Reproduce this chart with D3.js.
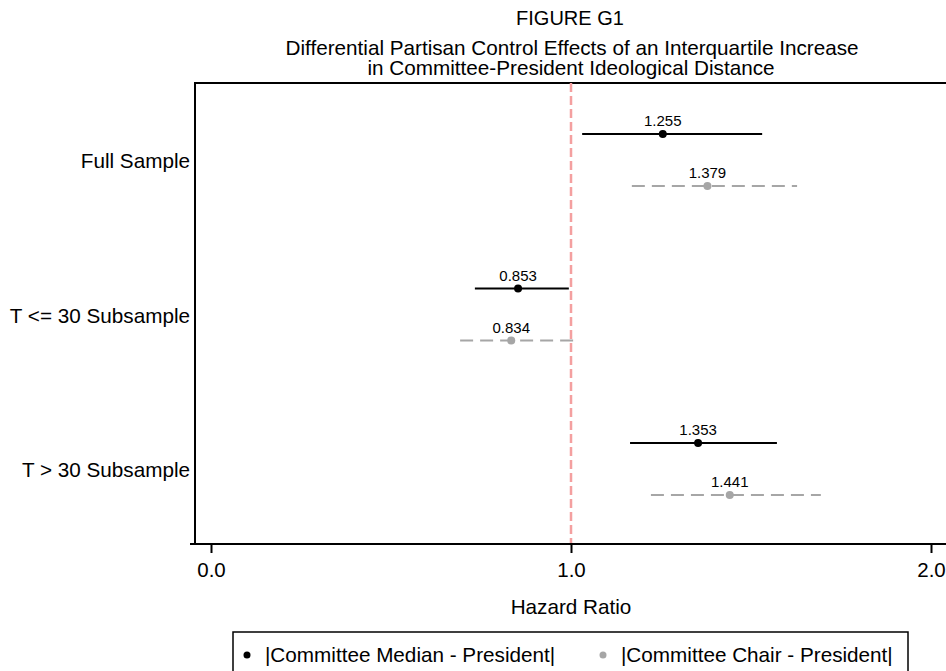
<!DOCTYPE html>
<html>
<head>
<meta charset="utf-8">
<script src="https://cdn.jsdelivr.net/npm/d3@7"></script>
<style>
  body { margin: 0; background: #fff; }
  text { font-family: "Liberation Sans", Arial, sans-serif; }
</style>
</head>
<body>
<svg id="svg1"></svg>
<script>
var groups = ['Full Sample', 'T <= 30 Subsample', 'T > 30 Subsample'];
var seriesNames = ['|Committee Median - President|', '|Committee Chair - President|'];
var medianEst = [1.255, 0.853, 1.353];
var medianLo = [1.031, 0.733, 1.164];
var medianHi = [1.531, 0.994, 1.572];
var chairEst = [1.379, 0.834, 1.441];
var chairLo = [1.169, 0.692, 1.222];
var chairHi = [1.628, 1.011, 1.694];
var xTicks = [0, 1, 2];

var width = 946, height = 671;
var svg = d3.select('#svg1').attr('width', width).attr('height', height);

var plotTop = 83, plotBottom = 544, plotLeft = 195;

var xScale = d3.scaleLinear().domain([0, 2]).range([211, 931]);
var yScale = d3.scalePoint().domain(groups).range([161, 470]);
var offsets = [-27, 25];

// title
svg.append('text').attr('x', 570).attr('y', 25).attr('text-anchor', 'middle')
    .style('font-size', '20px').text('FIGURE G1');
svg.append('text').attr('x', 572).attr('y', 55).attr('text-anchor', 'middle')
    .style('font-size', '20.7px').text('Differential Partisan Control Effects of an Interquartile Increase');
svg.append('text').attr('x', 571).attr('y', 75).attr('text-anchor', 'middle')
    .style('font-size', '20.7px').text('in Committee-President Ideological Distance');

// plot frame
svg.append('path')
    .attr('d', 'M' + plotLeft + ',' + plotBottom + 'V' + plotTop + 'H' + (width + 5))
    .attr('fill', 'none').attr('stroke', '#000').attr('stroke-width', 2);

// reference line at 1
svg.append('line')
    .attr('x1', xScale(1)).attr('x2', xScale(1))
    .attr('y1', plotTop).attr('y2', plotBottom)
    .attr('stroke', '#f4a0a0').attr('stroke-width', 2.5)
    .attr('stroke-dasharray', '9,4');

// x axis
var xAxis = d3.axisBottom(xScale).tickValues(xTicks).tickFormat(d3.format('.1f'))
    .tickSize(9).tickPadding(9);
var gx = svg.append('g').attr('transform', 'translate(0,' + plotBottom + ')').call(xAxis);
gx.select('.domain').remove();
gx.append('line').attr('x1', 190).attr('x2', width + 5).attr('y1', 0).attr('y2', 0)
    .attr('stroke', '#000').attr('stroke-width', 2);
gx.selectAll('.tick line').attr('stroke-width', 2);
gx.selectAll('.tick text').style('font-size', '20.5px').attr('fill', '#000');

svg.append('text').attr('x', 571).attr('y', 614).attr('text-anchor', 'middle')
    .style('font-size', '20.7px').text('Hazard Ratio');

// y labels
svg.selectAll('.ylab').data(groups).enter().append('text')
    .attr('class', 'ylab')
    .attr('x', 190).attr('y', function(d) { return yScale(d) + 7; })
    .attr('text-anchor', 'end').style('font-size', '20.7px')
    .text(function(d) { return d; });

var series = [
    { est: medianEst, lo: medianLo, hi: medianHi, color: '#000', dash: null },
    { est: chairEst, lo: chairLo, hi: chairHi, color: '#a6a6a6', dash: '13,7' }
];

series.forEach(function(s, si) {
    var g = svg.append('g');
    var entry = g.selectAll('g').data(groups).enter().append('g');
    entry.append('line')
        .attr('x1', function(d, i) { return xScale(s.lo[i]); })
        .attr('x2', function(d, i) { return xScale(s.hi[i]); })
        .attr('y1', function(d) { return yScale(d) + offsets[si]; })
        .attr('y2', function(d) { return yScale(d) + offsets[si]; })
        .attr('stroke', s.color).attr('stroke-width', 2)
        .attr('stroke-dasharray', s.dash);
    entry.append('circle')
        .attr('cx', function(d, i) { return xScale(s.est[i]); })
        .attr('cy', function(d) { return yScale(d) + offsets[si]; })
        .attr('r', 4).attr('fill', s.color);
    entry.append('text')
        .attr('x', function(d, i) { return xScale(s.est[i]); })
        .attr('y', function(d) { return yScale(d) + offsets[si] - 8; })
        .attr('text-anchor', 'middle').style('font-size', '15px')
        .text(function(d, i) { return s.est[i].toFixed(3); });
});

// legend
svg.append('rect').attr('x', 233).attr('y', 632).attr('width', 675).attr('height', 60)
    .attr('fill', 'none').attr('stroke', '#000').attr('stroke-width', 1.5);
var legX = [247, 603];
series.forEach(function(s, si) {
    svg.append('circle').attr('cx', legX[si]).attr('cy', 655).attr('r', 3.5).attr('fill', s.color);
    svg.append('text').attr('x', legX[si] + 18).attr('y', 662)
        .style('font-size', '20.7px').text(seriesNames[si]);
});
</script>
</body>
</html>
